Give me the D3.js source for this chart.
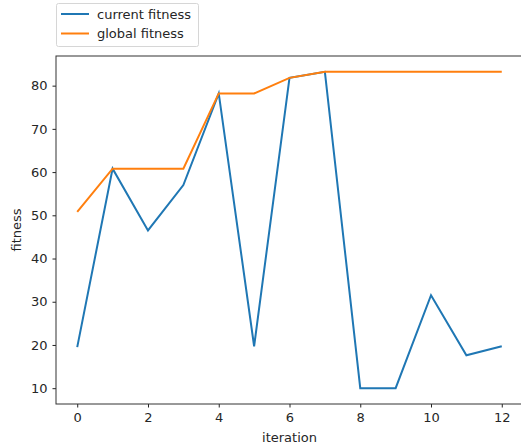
<!DOCTYPE html>
<html>
<head>
<meta charset="utf-8">
<script src="https://cdn.jsdelivr.net/npm/d3@7"></script>
<style>
  body { margin: 0; background: #fff; }
  svg text { font-family: "DejaVu Sans", sans-serif; fill: #262626; }
</style>
</head>
<body>
<div id="chart"></div>
<script>
const iterations = [0, 1, 2, 3, 4, 5, 6, 7, 8, 9, 10, 11, 12]
const currentFitness = [19.5, 60.8, 46.5, 57.0, 78.2, 19.7, 81.8, 83.2, 10.0, 10.0, 31.5, 17.6, 19.7]
const globalFitness = [50.8, 60.8, 60.8, 60.8, 78.2, 78.2, 81.8, 83.2, 83.2, 83.2, 83.2, 83.2, 83.2]
const xTicks = [0, 2, 4, 6, 8, 10, 12]
const yTicks = [10, 20, 30, 40, 50, 60, 70, 80]
const seriesNames = ["current fitness", "global fitness"]
const colors = ["#1f77b4", "#ff7f0e"]

const W = 521, H = 446
var margin = {top: 56, right: -2, bottom: 42, left: 56},
  width = W - margin.left - margin.right,
  height = H - margin.top - margin.bottom

var svg = d3.select("#chart").append("svg")
  .attr("width", W)
  .attr("height", H)

var g = svg.append("g")
  .attr("transform", "translate(" + margin.left + "," + margin.top + ")")

var xScale = d3.scaleLinear().domain([-0.6, 12.6]).range([0, width])
var yScale = d3.scaleLinear().domain([6.34, 86.86]).range([height, 0])

var xAxis = d3.axisBottom(xScale).tickValues(xTicks).tickSize(3.5).tickPadding(5)
var yAxis = d3.axisLeft(yScale).tickValues(yTicks).tickSize(3.5).tickPadding(5)

g.append("g")
  .attr("transform", "translate(0," + height + ")")
  .call(xAxis)
g.append("g")
  .call(yAxis)

g.selectAll(".tick text").style("font-size", "13px").attr("fill", "#262626")
g.selectAll(".tick line").attr("stroke", "#222")
g.selectAll(".domain").remove()

// spines
g.append("rect")
  .attr("x", 0).attr("y", 0)
  .attr("width", width).attr("height", height)
  .attr("fill", "none")
  .attr("stroke", "#333")
  .attr("stroke-width", 1)

var line = d3.line()
  .x(function(d, i) { return xScale(iterations[i]) })
  .y(function(d) { return yScale(d) })

g.append("path")
  .attr("d", line(currentFitness))
  .attr("fill", "none")
  .attr("stroke", colors[0])
  .attr("stroke-width", 2)

g.append("path")
  .attr("d", line(globalFitness))
  .attr("fill", "none")
  .attr("stroke", colors[1])
  .attr("stroke-width", 2)

svg.append("text")
  .attr("x", margin.left + xScale(6))
  .attr("y", 442)
  .attr("text-anchor", "middle")
  .style("font-size", "13px")
  .text("iteration")

svg.append("text")
  .attr("transform", "translate(21," + (margin.top + height / 2) + ") rotate(-90)")
  .attr("text-anchor", "middle")
  .style("font-size", "13px")
  .text("fitness")

// legend
var legend = svg.append("g").attr("transform", "translate(56,3)")
legend.append("rect")
  .attr("x", 0.5).attr("y", 0.5)
  .attr("width", 142).attr("height", 43)
  .attr("rx", 2)
  .attr("fill", "#fff")
  .attr("stroke", "#d6d6d6")
seriesNames.forEach(function(name, i) {
  var yy = 11 + i * 19.5
  legend.append("line")
    .attr("x1", 5).attr("x2", 33)
    .attr("y1", yy).attr("y2", yy)
    .attr("stroke", colors[i])
    .attr("stroke-width", 2)
  legend.append("text")
    .attr("x", 41).attr("y", yy + 4.5)
    .style("font-size", "13px")
    .text(name)
})
</script>
</body>
</html>
